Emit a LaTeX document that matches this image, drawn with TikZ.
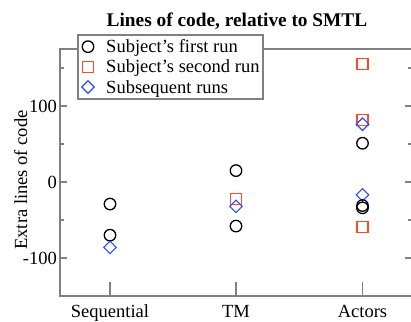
\documentclass[tikz,border=0pt]{standalone}
\usepackage{fontspec}
\setmainfont{Liberation Serif}
\definecolor{axisgray}{HTML}{808080}
\definecolor{sqred}{HTML}{FF4A2A}
\definecolor{dmblue}{HTML}{2A4BFF}
\tikzset{
  axisline/.style={draw=axisgray, line width=1.2bp},
  ticklab/.style={font=\fontsize{18.6}{20}\selectfont, inner sep=0pt},
  circmark/.style={circle, draw=black, line width=1.3bp, minimum size=11.5bp, inner sep=0pt},
  sqmark/.style={rectangle, draw=sqred, line width=1.3bp, minimum size=11bp, inner sep=0pt},
  dmmark/.style={diamond, draw=dmblue, line width=1.1bp, minimum size=13bp, inner sep=0pt},
}
\usetikzlibrary{shapes.geometric}
\begin{document}
\begin{tikzpicture}[x=1bp,y=-1bp]
\useasboundingbox[fill=white] (0,0) rectangle (411,322);
% axes box
\draw[axisline] (60,49) rectangle (412,296);
% y ticks
\foreach \v in {-100,0,100} {
  \draw[axisline] (60,{182-0.76*\v}) -- ++(7,0);
  \draw[axisline] (412,{182-0.76*\v}) -- ++(-7,0);
}
\foreach \v in {-50,50,150} {
  \draw[axisline] (60,{182-0.76*\v}) -- ++(4,0);
  \draw[axisline] (412,{182-0.76*\v}) -- ++(-4,0);
}
\node[ticklab, anchor=east] (l100) at (57,106) {100};
\node[ticklab, anchor=east] (l0) at (57,182) {0};
\node[ticklab, anchor=east] (lm100) at (57,258) {-100};
% x ticks
\foreach \xx in {110,236,362.5} {
  \draw[axisline] (\xx,296) -- (\xx,282);
}
\node[ticklab, anchor=base] (seq) at (110,317) {Sequential};
\node[ticklab, anchor=base] (tm) at (236,317) {TM};
\node[ticklab, anchor=base] (act) at (362.5,317) {Actors};
% axis label
\node[ticklab, rotate=90, anchor=base] (ylab) at (27,180) {Extra lines of code};
% title
\node[font=\fontsize{19.4}{21}\selectfont\bfseries, inner sep=0pt, anchor=base] (title) at (237,26) {Lines of code, relative to SMTL};
% data
\node[circmark] (s1) at (110,{182-0.76*(-29)}) {};
\node[circmark] (s2) at (110,{182-0.76*(-70)}) {};
\node[dmmark] (s3) at (110,{182-0.76*(-86)}) {};
\node[circmark] (t1) at (236,{182-0.76*15}) {};
\node[sqmark] (t2) at (236,{182-0.76*(-22)}) {};
\node[dmmark] (t3) at (236,{182-0.76*(-32)}) {};
\node[circmark] (t4) at (236,{182-0.76*(-58)}) {};
\node[sqmark] (a1) at (362.5,{182-0.76*155}) {};
\node[sqmark] (a2) at (362.5,{182-0.76*82}) {};
\node[dmmark] (a3) at (362.5,{182-0.76*76}) {};
\node[circmark] (a4) at (362.5,{182-0.76*51}) {};
\node[dmmark] (a5) at (362.5,{182-0.76*(-17)}) {};
\node[circmark] (a6) at (362.5,{182-0.76*(-31)}) {};
\node[circmark] (a7) at (362.5,{182-0.76*(-34)}) {};
\node[sqmark] (a8) at (362.5,{182-0.76*(-59)}) {};
% legend
\draw[draw=axisgray, fill=white, line width=1.2bp] (78,35) rectangle (263,99);
\node[circmark] (lg1) at (88,46.7) {};
\node[sqmark] (lg2) at (88,66.7) {};
\node[dmmark] (lg3) at (88,87) {};
\node[ticklab, anchor=base west] (lt1) at (106,52.5) {Subject’s first run};
\node[ticklab, anchor=base west] (lt2) at (106,72.5) {Subject’s second run};
\node[ticklab, anchor=base west] (lt3) at (106,93) {Subsequent runs};
\end{tikzpicture}
\end{document}
